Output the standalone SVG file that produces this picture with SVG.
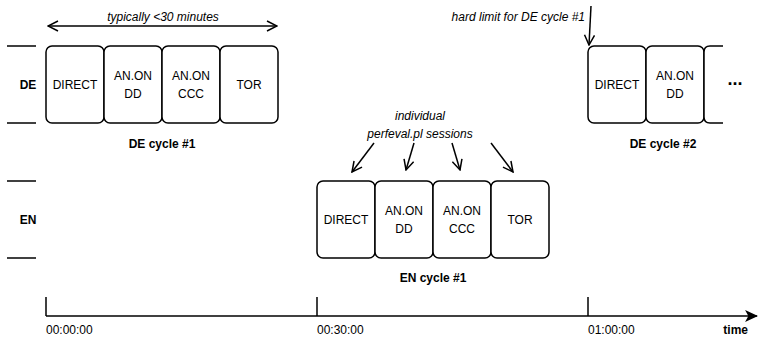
<svg xmlns="http://www.w3.org/2000/svg" width="761" height="337" viewBox="0 0 761 337">
<defs>
<marker id="ah" viewBox="0 0 12 12" refX="11" refY="6" markerWidth="12" markerHeight="12" markerUnits="userSpaceOnUse" orient="auto-start-reverse">
<path d="M1,1 L11,6 L1,11" fill="none" stroke="#000" stroke-width="1.5"/>
</marker>
<marker id="ahf" viewBox="0 0 12 12" refX="11" refY="6" markerWidth="13" markerHeight="13" markerUnits="userSpaceOnUse" orient="auto">
<path d="M0,0.5 L12,6 L0,11.5 L3,6 Z" fill="#000"/>
</marker>
</defs>
<style>
.box{fill:#fff;stroke:#000;stroke-width:1.5}
.ln{stroke:#000;stroke-width:1.5;fill:none}
text{font-family:"Liberation Sans",Arial,sans-serif;font-size:12px;fill:#000}
.c{text-anchor:middle}
.b{font-weight:bold}
.i{font-style:italic}
</style>
<rect width="761" height="337" fill="#fff"/>
<g id="lanes">
<line class="ln" x1="7" y1="46" x2="36" y2="46"/>
<line class="ln" x1="7" y1="123" x2="36" y2="123"/>
<line class="ln" x1="7" y1="181" x2="36" y2="181"/>
<line class="ln" x1="7" y1="258" x2="36" y2="258"/>
<text x="28" y="89" class="c b">DE</text>
<text x="28" y="224" class="c b">EN</text>
</g>
<g id="de1">
<rect class="box" x="46" y="46" width="58" height="77" rx="6"/>
<text x="75" y="89" class="c">DIRECT</text>
<rect class="box" x="104" y="46" width="58" height="77" rx="6"/>
<text x="133" y="80" class="c">AN.ON</text><text x="133" y="98" class="c">DD</text>
<rect class="box" x="162" y="46" width="58" height="77" rx="6"/>
<text x="191" y="80" class="c">AN.ON</text><text x="191" y="98" class="c">CCC</text>
<rect class="box" x="220" y="46" width="58" height="77" rx="6"/>
<text x="249" y="89" class="c">TOR</text>
<text x="162" y="148" class="c b">DE cycle #1</text>
</g>
<g id="en1">
<rect class="box" x="317" y="181" width="58" height="77" rx="6"/>
<text x="346" y="224" class="c">DIRECT</text>
<rect class="box" x="375" y="181" width="58" height="77" rx="6"/>
<text x="404" y="215" class="c">AN.ON</text><text x="404" y="233" class="c">DD</text>
<rect class="box" x="433" y="181" width="58" height="77" rx="6"/>
<text x="462" y="215" class="c">AN.ON</text><text x="462" y="233" class="c">CCC</text>
<rect class="box" x="491" y="181" width="58" height="77" rx="6"/>
<text x="520" y="224" class="c">TOR</text>
<text x="433" y="282" class="c b">EN cycle #1</text>
</g>
<g id="de2">
<rect class="box" x="588" y="46" width="58" height="77" rx="6"/>
<text x="617" y="89" class="c">DIRECT</text>
<rect class="box" x="646" y="46" width="58" height="77" rx="6"/>
<text x="675" y="80" class="c">AN.ON</text><text x="675" y="98" class="c">DD</text>
<path class="box" d="M723,46 L710,46 Q704,46 704,52 L704,117 Q704,123 710,123 L723,123"/>
<text x="735" y="85" class="c b" style="font-size:18px">...</text>
<text x="663" y="148" class="c b">DE cycle #2</text>
</g>
<g id="labels">
<text x="163" y="21" class="c i">typically &lt;30 minutes</text>
<text x="585" y="21" class="i" text-anchor="end">hard limit for DE cycle #1</text>
<text x="420" y="120" class="c i">individual</text>
<text x="420" y="138" class="c i">perfeval.pl sessions</text>
</g>
<g id="axis">
<line class="ln" x1="46" y1="316" x2="757" y2="316" marker-end="url(#ahf)"/>
<line class="ln" x1="46" y1="297" x2="46" y2="316"/>
<line class="ln" x1="317" y1="297" x2="317" y2="316"/>
<line class="ln" x1="588" y1="297" x2="588" y2="316"/>
<text x="46" y="334">00:00:00</text>
<text x="317" y="334">00:30:00</text>
<text x="588" y="334">01:00:00</text>
<text x="748" y="334" class="b" text-anchor="end">time</text>
</g>
<g id="connectors">
<line class="ln" x1="48" y1="26" x2="277" y2="26" marker-start="url(#ah)" marker-end="url(#ah)"/>
<line class="ln" x1="591" y1="6" x2="589" y2="45" marker-end="url(#ah)"/>
<line class="ln" x1="374" y1="143" x2="352" y2="172" marker-end="url(#ah)"/>
<line class="ln" x1="414" y1="143" x2="406" y2="170" marker-end="url(#ah)"/>
<line class="ln" x1="452" y1="143" x2="460" y2="170" marker-end="url(#ah)"/>
<line class="ln" x1="491" y1="143" x2="513" y2="172" marker-end="url(#ah)"/>
</g>
</svg>
